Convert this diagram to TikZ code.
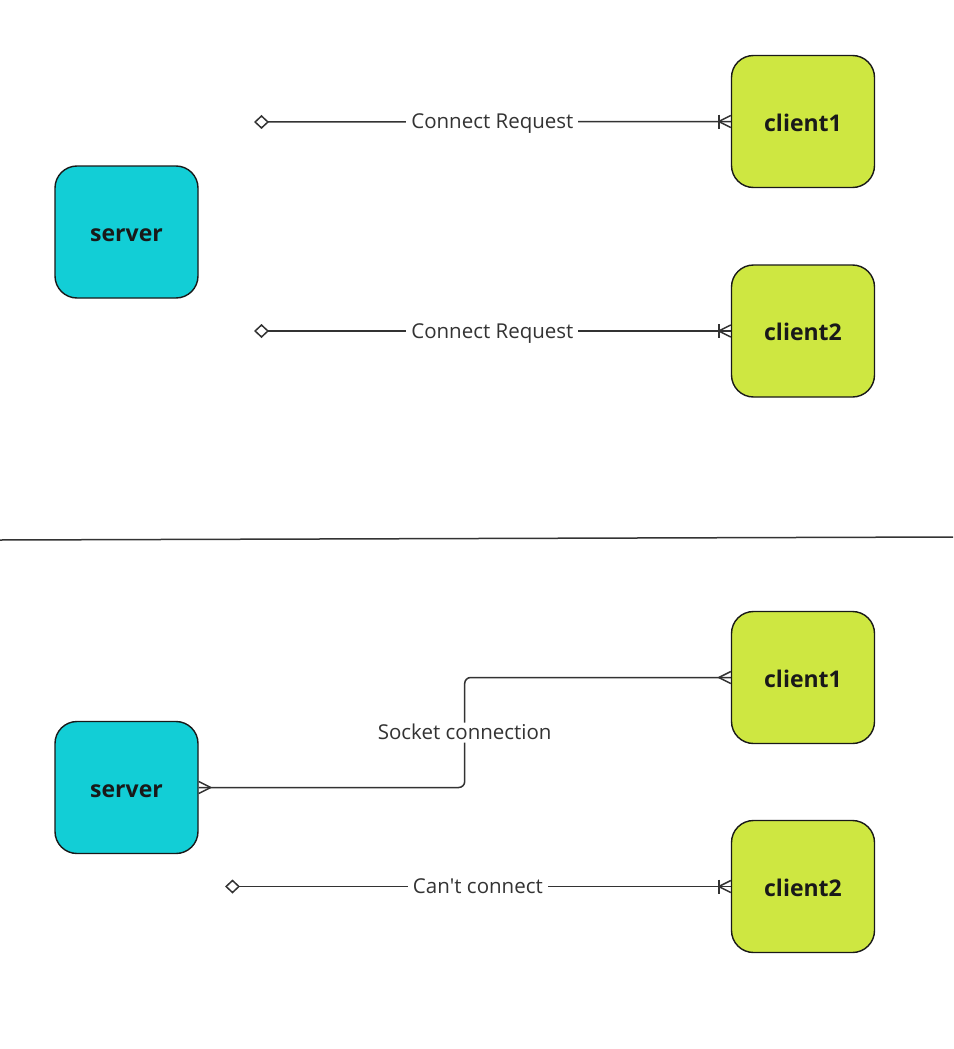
\documentclass[tikz,border=0pt]{standalone}
\usepackage{fontspec}
\setmainfont{Open Sans}
\usetikzlibrary{arrows.meta,calc}

\definecolor{srvcyan}{RGB}{18,206,214}
\definecolor{clilime}{RGB}{206,231,65}
\definecolor{linegray}{RGB}{51,51,51}

\tikzset{
  box/.style={draw=black!90, line width=1.4pt, rounded corners=22pt,
    minimum width=143pt, minimum height=132pt, text height=19pt, text depth=0pt,
    font=\fontsize{23}{27}\selectfont\bfseries, text=black!90},
  srvbox/.style={box, fill=srvcyan},
  clibox/.style={box, fill=clilime},
  conn/.style={draw=linegray, line width=1.5pt},
  lbl/.style={fill=white, inner xsep=5pt, inner ysep=3pt, text=linegray,
    text height=14pt, text depth=0pt, font=\fontsize{20.5}{24}\selectfont},
  opendia/.style={{Diamond[open,length=15pt,width=14pt,line width=1.5pt]}-}
}

% crow's foot at a node side: #1 anchor, #2 direction (+1 / -1)
\newcommand\crowfoot[2]{%
  \draw[conn] ($(#1)+(#2*12,0)$) -- ($(#1)+(0,-6)$)
              ($(#1)+(#2*12,0)$) -- ($(#1)+(0,6)$);}
\newcommand\crowbar[2]{%
  \crowfoot{#1}{#2}
  \draw[conn] ($(#1)+(#2*12,-7)$) -- ($(#1)+(#2*12,7)$);}

\begin{document}
\begin{tikzpicture}[x=1pt,y=-1pt]
\useasboundingbox[fill=white] (0,0) rectangle (953,1049);

% top: both clients request
\node[srvbox] (srvA) at (126.5,232) {server};
\node[clibox] (cliA1) at (803,121.5) {client1};
\node[clibox] (cliA2) at (803,331) {client2};

\coordinate (reqA1) at (254,122);
\coordinate (reqA2) at (254,331);
\draw[conn,opendia] (reqA1) -- node[lbl] {Connect Request} (cliA1.west);
\draw[conn,opendia] (reqA2) -- node[lbl] {Connect Request} (cliA2.west);
\crowbar{cliA1.west}{-1}
\crowbar{cliA2.west}{-1}

% divider
\coordinate (divL) at (0,540);
\coordinate (divR) at (953,537);
\draw[conn] (divL) -- (divR);

% bottom: client1 gets the socket
\node[srvbox] (srvB) at (126.5,787.5) {server};
\node[clibox] (cliB1) at (803,677.5) {client1};
\node[clibox] (cliB2) at (803,886.5) {client2};

\draw[conn, rounded corners=6pt] (srvB.east) -- ++(266,0)
  |- node[lbl, pos=0.25] {Socket connection} (cliB1.west);
\crowfoot{srvB.east}{1}
\crowfoot{cliB1.west}{-1}

\coordinate (refB2) at (225,886.5);
\draw[conn,opendia] (refB2) -- node[lbl] {Can\textquotesingle t connect} (cliB2.west);
\crowbar{cliB2.west}{-1}

\end{tikzpicture}
\end{document}
